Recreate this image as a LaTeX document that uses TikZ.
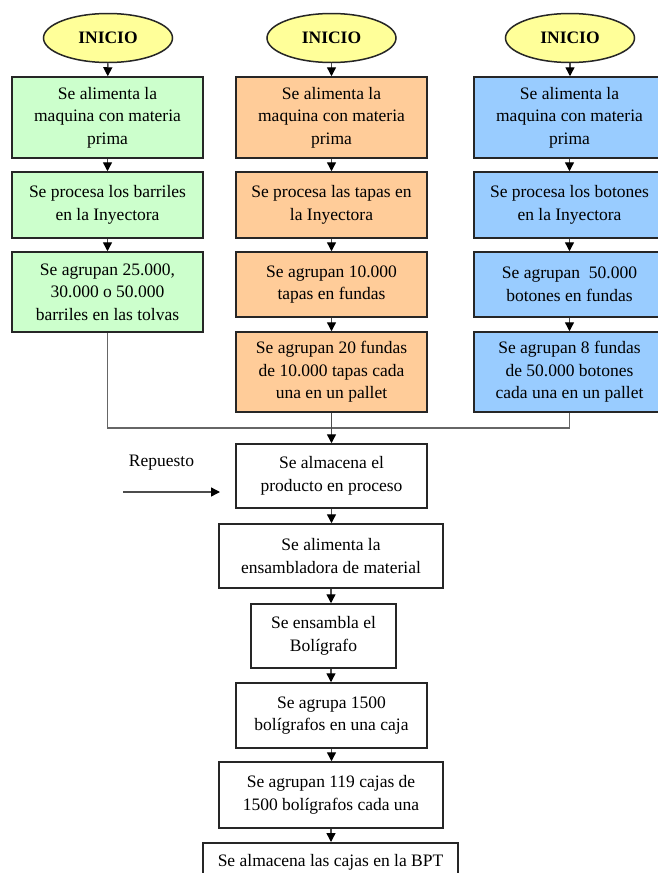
\documentclass[tikz,border=0pt]{standalone}
\usepackage{fontspec}
\setmainfont{Liberation Serif}
\usetikzlibrary{arrows.meta,shapes.geometric}
\definecolor{gfill}{HTML}{CCFFCC}
\definecolor{ofill}{HTML}{FFCC99}
\definecolor{bfill}{HTML}{99CCFF}
\definecolor{yfill}{HTML}{FFFF99}
\begin{document}
\begin{tikzpicture}[x=1pt,y=-1pt,
  every node/.style={font=\fontsize{17.5}{22.5}\selectfont, align=center, inner sep=0pt},
  procbox/.style={draw=black!85, line width=1.5pt, rectangle},
  colbox/.style={procbox, minimum width=191pt},
  startell/.style={draw=black!85, line width=1.5pt, ellipse, fill=yfill, minimum width=129pt, minimum height=49pt},
  arr/.style={draw=black!70, line width=1.4pt, -{Triangle[width=9pt,length=9pt,color=black]}},
  conn/.style={draw=black!60, line width=1.4pt}]
\useasboundingbox (0,0) rectangle (658,873);
\clip (0,0) rectangle (658,873);
\fill[white] (0,0) rectangle (658,873);
% starts
\node[startell] (e1) at (108,38) {\textbf{INICIO}};
\node[startell] (e2) at (331.5,38) {\textbf{INICIO}};
\node[startell] (e3) at (570,38) {\textbf{INICIO}};
% green column
\node[colbox, fill=gfill, minimum height=81pt] (g1) at (107.5,117.5) {Se alimenta la\\maquina con materia\\prima};
\node[colbox, fill=gfill, minimum height=66pt] (g2) at (107.5,205) {Se procesa los barriles\\en la Inyectora};
\node[colbox, fill=gfill, minimum height=80pt] (g3) at (107.5,292) {Se agrupan 25.000,\\30.000 o 50.000\\barriles en las tolvas};
% orange column
\node[colbox, fill=ofill, minimum height=81pt] (o1) at (331.5,117.5) {Se alimenta la\\maquina con materia\\prima};
\node[colbox, fill=ofill, minimum height=66pt] (o2) at (331.5,205) {Se procesa las tapas en\\la Inyectora};
\node[colbox, fill=ofill, minimum height=65pt] (o3) at (331.5,284.5) {Se agrupan 10.000\\tapas en fundas};
\node[colbox, fill=ofill, minimum height=80pt] (o4) at (331.5,372) {Se agrupan 20 fundas\\de 10.000 tapas cada\\una en un pallet};
% blue column
\node[colbox, fill=bfill, minimum height=81pt] (b1) at (569.5,117.5) {Se alimenta la\\maquina con materia\\prima};
\node[colbox, fill=bfill, minimum height=66pt] (b2) at (569.5,205) {Se procesa los botones\\en la Inyectora};
\node[colbox, fill=bfill, minimum height=65pt] (b3) at (569.5,284.5) {Se agrupan \ 50.000\\botones en fundas};
\node[colbox, fill=bfill, minimum height=80pt] (b4) at (569.5,372) {Se agrupan 8 fundas\\de 50.000 botones\\cada una en un pallet};
% lower chain
\node[procbox, fill=white, minimum width=191pt, minimum height=64pt] (s1) at (331.5,476) {Se almacena el\\producto en proceso};
\node[procbox, fill=white, minimum width=224pt, minimum height=64pt] (s2) at (331,556) {Se alimenta la\\ensambladora de material};
\node[procbox, fill=white, minimum width=145pt, minimum height=64pt] (s3) at (323.5,636) {Se ensambla el\\Bolígrafo};
\node[procbox, fill=white, minimum width=191pt, minimum height=65pt] (s4) at (331.5,715.5) {Se agrupa 1500\\bolígrafos en una caja};
\node[procbox, fill=white, minimum width=224pt, minimum height=66pt] (s5) at (331,795) {Se agrupan 119 cajas de\\1500 bolígrafos cada una};
\node[procbox, fill=white, minimum width=255pt, minimum height=64pt, anchor=north] (s6) at (330.5,842) {Se almacena las cajas en la BPT\\\strut};
% Repuesto
\node (rep) at (161.5,463) {Repuesto};
\coordinate (ra) at (123,492);
\coordinate (rb) at (220,492);
\draw[arr] (ra) -- (rb);
% column arrows
\draw[arr] (e1) -- (g1);
\draw[arr] (g1) -- (g2);
\draw[arr] (g2) -- (g3);
\draw[arr] (e2) -- (o1);
\draw[arr] (o1) -- (o2);
\draw[arr] (o2) -- (o3);
\draw[arr] (o3) -- (o4);
\draw[arr] (e3.south) -- (e3.south |- b1.north);
\draw[arr] (b1) -- (b2);
\draw[arr] (b2) -- (b3);
\draw[arr] (b3) -- (b4);
% merge
\coordinate (j) at (331.5,428);
\draw[conn] (g3.south) |- (j);
\draw[conn] (b4.south) |- (j);
\draw[arr] (o4.south) -- (s1.north);
% chain arrows
\draw[arr] (s1.south) -- (s1.south |- s2.north);
\draw[arr] (s2.south) -- (s2.south |- s3.north);
\draw[arr] (s2.south |- s3.south) -- (s2.south |- s4.north);
\draw[arr] (s4.south) -- (s4.south |- s5.north);
\draw[arr] (s5.south) -- (s5.south |- s6.north);
\end{tikzpicture}
\end{document}
